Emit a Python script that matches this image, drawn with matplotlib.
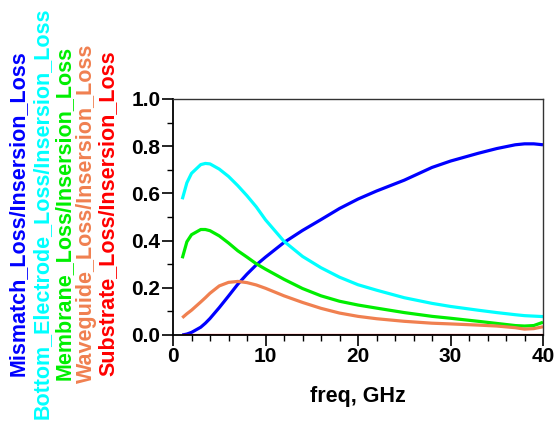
import matplotlib
matplotlib.use('Agg')
import matplotlib.pyplot as plt
from matplotlib.ticker import MultipleLocator

plt.rcParams['font.family'] = ['Liberation Sans', 'DejaVu Sans']
plt.rcParams['font.weight'] = 'bold'

freq = [1, 1.5, 2, 3, 3.5, 4, 5, 6, 7, 8, 9, 10, 12, 14, 16, 18, 20, 22, 25,
        28, 30, 33, 35, 37, 38, 39, 40]

mismatch = [0.0, 0.004, 0.011, 0.033, 0.05, 0.07, 0.116, 0.165, 0.215, 0.258,
            0.297, 0.33, 0.392, 0.443, 0.489, 0.536, 0.576, 0.61, 0.656, 0.71,
            0.737, 0.77, 0.79, 0.806, 0.81, 0.81, 0.806]
bottom_electrode = [0.575, 0.645, 0.685, 0.722, 0.727, 0.725, 0.703, 0.672,
                    0.633, 0.59, 0.543, 0.488, 0.397, 0.333, 0.285, 0.245,
                    0.213, 0.19, 0.158, 0.134, 0.121, 0.105, 0.095, 0.086,
                    0.082, 0.08, 0.078]
membrane = [0.325, 0.395, 0.425, 0.447, 0.447, 0.442, 0.42, 0.39, 0.357, 0.33,
            0.302, 0.279, 0.236, 0.197, 0.166, 0.143, 0.127, 0.114, 0.095,
            0.079, 0.071, 0.058, 0.049, 0.04, 0.038, 0.04, 0.054]
waveguide = [0.073, 0.09, 0.105, 0.14, 0.158, 0.177, 0.208, 0.223, 0.227,
             0.222, 0.212, 0.198, 0.166, 0.138, 0.113, 0.093, 0.079, 0.069,
             0.058, 0.05, 0.047, 0.042, 0.038, 0.031, 0.025, 0.027, 0.035]
substrate = [0.002] * len(freq)

series = [
    ('Mismatch_Loss/Insersion_Loss', mismatch, '#0000ff'),
    ('Bottom_Electrode_Loss/Insersion_Loss', bottom_electrode, '#00ffff'),
    ('Membrane_Loss/Insersion_Loss', membrane, '#00ee00'),
    ('Waveguide_Loss/Insersion_Loss', waveguide, '#f08050'),
    ('Substrate_Loss/Insersion_Loss', substrate, '#ff0000'),
]

fig = plt.figure(figsize=(5.56, 4.29), dpi=100)
ax = fig.add_axes([173/556, 1 - 335/429, 370/556, 236/429])

for name, vals, col in series:
    ax.plot(freq, vals, color=col, lw=2.3, solid_capstyle='butt')

ax.set_xlim(0, 40)
ax.set_ylim(0, 1.0)
ax.xaxis.set_major_locator(MultipleLocator(10))
ax.xaxis.set_minor_locator(MultipleLocator(2))
ax.yaxis.set_major_locator(MultipleLocator(0.2))
ax.yaxis.set_minor_locator(MultipleLocator(0.1))
ax.yaxis.set_major_formatter(plt.FormatStrFormatter('%.1f'))
ax.tick_params(which='major', direction='out', length=8, width=1.2,
               labelsize=15, pad=1)
ax.tick_params(which='minor', direction='out', length=4, width=1.0)
ax.tick_params(top=False, right=False)
for s in ['left', 'bottom']:
    ax.spines[s].set_linewidth(1.3)
for s in ['top', 'right']:
    ax.spines[s].set_linewidth(1.0)
ax.spines['top'].set_color('#333333')
ax.spines['right'].set_color('#333333')
for lbl in ax.get_xticklabels() + ax.get_yticklabels():
    lbl.set_fontweight('bold')

ax.set_xlabel('freq, GHz', fontsize=15.5, fontweight='bold', labelpad=14)

xs = [18, 42, 64, 86, 108]
for (name, vals, col), x in zip(series, xs):
    fig.text(x/556, 1 - 213/429, name, rotation=90, color=col,
             fontsize=15.5, fontweight='bold', ha='center', va='center')

fig.savefig('out.png', dpi=100)
